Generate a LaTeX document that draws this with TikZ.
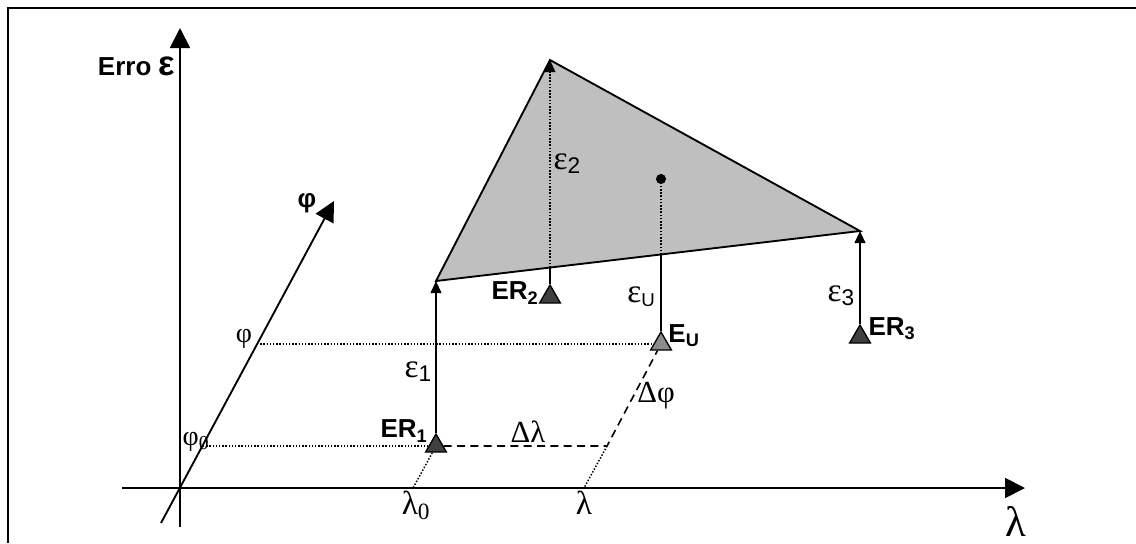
\documentclass[tikz,border=0pt]{standalone}
\usepackage{fontspec}
\setsansfont{Liberation Sans}
\newfontfamily\greekfont{Liberation Serif}
\usetikzlibrary{arrows.meta,shapes.geometric}
\newcommand{\errsub}[2][17]{ε\raisebox{-3pt}{\fontsize{#1}{20}\sffamily #2}}
\begin{document}
\begin{tikzpicture}[x=0.75pt,y=-0.75pt,line width=1.4pt]
\tikzset{
  axisarrow/.style={-{Triangle[length=15pt,width=15pt]}},
  errarrow/.style={-{Triangle[length=9pt,width=8pt]}},
  guide/.style={line width=1.1pt,dash pattern=on 1.1pt off 1.3pt},
  diff/.style={line width=1.2pt,dash pattern=on 6pt off 4pt},
  station/.style={draw,line width=1pt,fill=black!75,regular polygon,regular polygon sides=3,minimum size=18pt,inner sep=0pt},
  boldlabel/.style={font=\sffamily\bfseries\fontsize{19.5}{22}\selectfont,inner sep=0pt},
  greek/.style={font=\greekfont\fontsize{25}{28}\selectfont,inner sep=0pt}
}
\useasboundingbox (0,0) rectangle (1136,543);
% frame
\draw[line width=2pt] (8,543) -- (8,8) -- (1136,8);
% axes
\coordinate (O) at (180,488);
\coordinate (xa) at (122,488); \coordinate (xb) at (1025,488);
\coordinate (ya) at (180,527); \coordinate (yb) at (180,28);
\coordinate (pa) at (161,523); \coordinate (pb) at (334,201);
\draw[axisarrow] (xa) -- (xb);
\draw[axisarrow] (ya) -- (yb);
\draw[axisarrow] (pa) -- (pb);
\node[boldlabel,anchor=east] (errolab) at (176,66) {Erro {\fontsize{26}{28}\selectfont ε}};
\node[boldlabel] (philab) at (307,203) {φ};
\node[greek,font=\greekfont\fontsize{32}{34}\selectfont] (lamlab) at (1016,521) {λ};
% error plane
\coordinate (A) at (436,281);
\coordinate (B) at (550,60);
\coordinate (C) at (860,231);
\fill[black!25] (A) -- (B) -- (C) -- cycle;
\draw[line join=miter] (A) -- (B) -- (C) -- cycle;
% stations
\node[station] (er1) at (436,446) {};
\node[station] (er2) at (550,297) {};
\node[station] (er3) at (860,337) {};
\node[station,fill=black!45] (eu) at (661,344) {};
\coordinate (D) at (607,446);
\coordinate (m2) at (550,267.5);
\coordinate (mu) at (661,254.5);
\coordinate (pu) at (661,179);
\fill (pu) circle (3.8pt);
% errors
\draw[errarrow] (er1) -- (A);
\draw (er2) -- (m2);
\draw[guide,errarrow] (m2) -- (B);
\draw[errarrow] (er3) -- (C);
\draw (eu) -- (mu);
\draw[guide] (mu) -- (pu);
% projections
\coordinate (f0) at (203,446); \coordinate (f1) at (257,344);
\coordinate (l0) at (413,488); \coordinate (l1) at (584,488);
\draw[guide] (f0) -- (er1);
\draw[guide] (f1) -- (eu);
\draw[guide] (er1) -- (l0);
\draw[guide] (D) -- (l1);
\draw[diff] (er1) -- (D) -- (eu);
% labels
\node[boldlabel] (er1lab) at (404,431) {ER\textsubscript{1}};
\node[boldlabel] (er2lab) at (515,293) {ER\textsubscript{2}};
\node[boldlabel] (er3lab) at (892,329) {ER\textsubscript{3}};
\node[boldlabel] (eulab) at (684,336) {E\textsubscript{U}};
\node[greek] (e1) at (418,372) {\errsub{1}};
\node[greek] (e2) at (567,164) {\errsub{2}};
\node[greek] (e3) at (841,296) {\errsub{3}};
\node[greek] (eulab2) at (641,297) {\errsub[14]{U}};
\node[greek,font=\greekfont\fontsize{23}{26}\selectfont] (dlam) at (528,432) {Δλ};
\node[greek,font=\greekfont\fontsize{23}{26}\selectfont] (dphi) at (656,396) {Δφ};
\node[greek] (lam0) at (416,505) {λ\textsubscript{0}};
\node[greek] (lam1) at (584,503) {λ};
\node[greek,font=\greekfont\fontsize{21}{24}\selectfont] (phi1) at (244,339) {φ};
\node[greek,font=\greekfont\fontsize{21}{24}\selectfont] (phi0) at (196,442) {φ\textsubscript{0}};
\end{tikzpicture}
\end{document}
